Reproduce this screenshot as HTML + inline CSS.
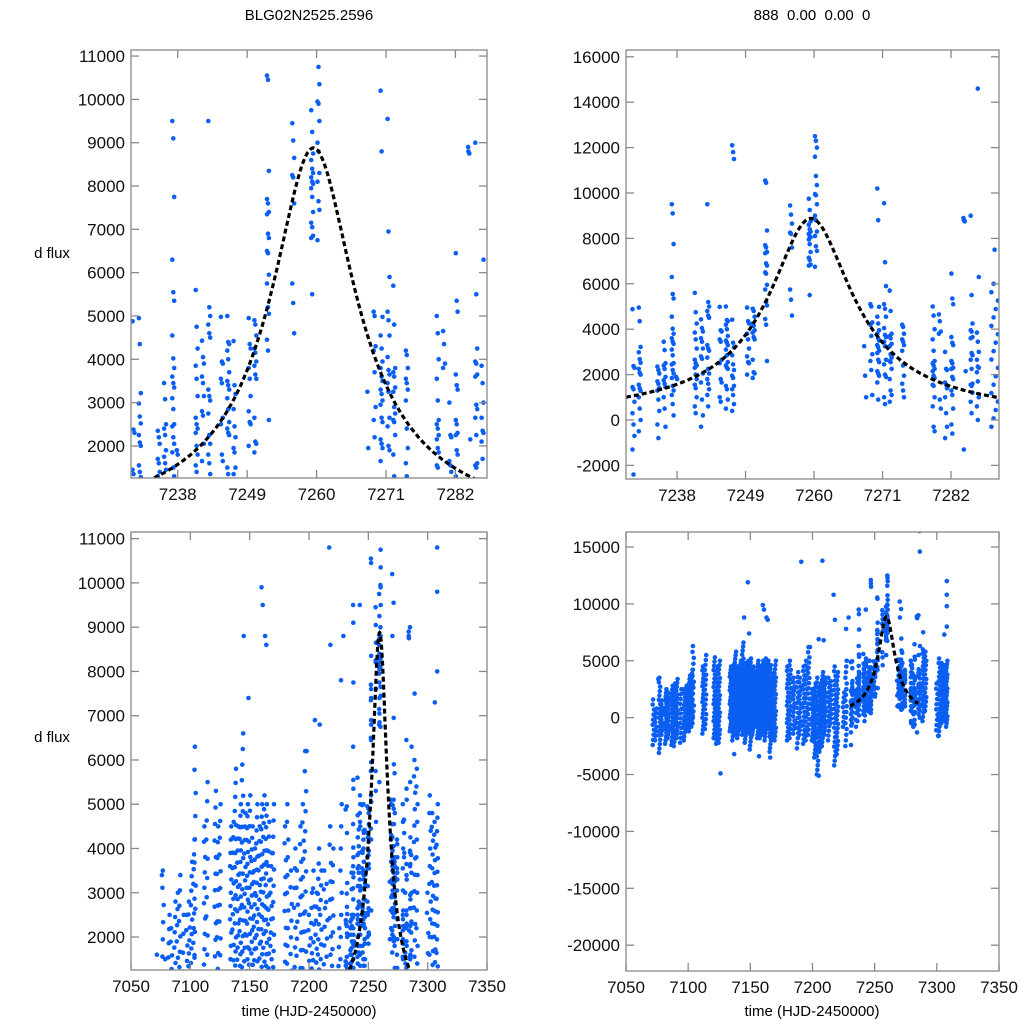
<!DOCTYPE html>
<html><head><meta charset="utf-8"><style>
html,body{margin:0;padding:0;background:#fff;width:1024px;height:1024px;overflow:hidden;}
svg{display:block;font-family:"Liberation Sans",sans-serif;}
</style></head><body>
<svg id="fig" width="1024" height="1024" viewBox="0 0 1024 1024">
<text x="309" y="20" font-size="15" text-anchor="middle">BLG02N2525.2596</text>
<text x="812" y="20" font-size="15" text-anchor="middle" xml:space="preserve">888  0.00  0.00  0</text>
<text x="52" y="258" font-size="15" text-anchor="middle">d flux</text>
<text x="52" y="742" font-size="15" text-anchor="middle">d flux</text>
<text x="309" y="1016" font-size="15" text-anchor="middle">time (HJD-2450000)</text>
<text x="812" y="1016" font-size="15" text-anchor="middle">time (HJD-2450000)</text>
</svg>
<script>
// Explicit observations near the event: [time, list of flux values]
const obsTimes = [7231,7232,7235,7236,7237.3,7238,7241,7242,7243,7245,7246,7247,7249.4,7250.3,7252.3,7256.3,7259.3,7260.3,7268.2,7269.2,7270.3,7271.4,7272.3,7274.3,7279.2,7280.2,7281.2,7282.2,7284.2,7285.3,7286.3];
const obsFlux = [
 [4880,2380,2300,1450,1350,800,300,-200,-700,-1300,-2400],
 [4950,4350,3220,2980,2680,2520,2250,2080,2000,1550,1400,1280,1000,500,0,-500],
 [2350,2200,2050,1700,1600,1400,1300,900,400,-200,-800],
 [3450,3080,2500,2400,2250,1900,1750,1600,1450,1000,500,-300],
 [9500,9100,7750,6300,5550,5350,4550,4020,3800,3600,3450,3350,3100,2850,2500,2450,2200,2050,1850,1500,1300,1100,700,200],
 [1900,1800],
 [5600,4750,4250,3850,3550,3150,2650,2500,2400,2300,2000,1800,1550,1400,1000,600,300],
 [4430,4050,3900,3600,3450,3150,2800,2700,2050,1650,900,200,-300],
 [9500,5200,5000,4800,4600,4500,3300,3150,3050,2750,2250,2050,1800,1600,1350,1100,600],
 [4980,3950,3900,3550,3450,2650,2500,1800,1650,1000,800],
 [5000,4400,4350,4200,4000,3700,3500,3400,3300,3100,2850,2550,2400,2300,2250,1500,1350,900,500],
 [12100,11800,11500,4420,3400,3200,2850,2450,2200,1950,1850,1500,1350,1100,700,400],
 [4950,4350,4250,3800,3550,3150,2800,2550,2500,2000],
 [4900,4800,4550,4250,4150,3950,3850,3650,3550,2650,2100,2050,1850],
 [10550,10450,8350,7700,7600,7400,7350,6900,6800,6500,6450,5950,5750,5200,5050,4450,4200,2600],
 [9450,9050,8650,8250,8200,7600,5750,5300,4600],
 [9750,9250,8750,8600,8400,8300,8200,8100,8050,7950,7750,7400,7150,7050,6850,6800,5500],
 [12500,12300,12000,11600,10750,10350,9950,9900,9500,9000,8800,8300,8100,7650,7450,6750],
 [3250,1950,1000],
 [5100,5000,4300,4200,3700,2900,2600,2200,1100],
 [10200,8800,4980,4550,4250,3950,3800,3600,3500,3300,3200,3050,2950,2650,2550,2150,2050,1950,1650,900],
 [9550,6950,5900,5100,4900,4550,4050,3750,3650,3450,3250,2650,2450,2000,1900,1000,700],
 [5700,4800,3800,3700,3600,3350,3250,2900,2750,2600,2550,2250,1800,1300,1100,800],
 [4200,4100,3800,3550,3450,3300,3050,2400,1950,1600,1300,1000],
 [5000,4600,4000,3550,3050,2600,2500,2400,2250,2150,1950,1850,1550,1500,1000,600,-300,-500],
 [4650,4350,3900,3800,900,500],
 [3000,2250,2200,1650,1550,1400,1000,300,-300,-800],
 [6450,5350,5100,3650,3400,3300,2600,2500,2300,2250,1900,1800,1300,1100,500,-200,-600],
 [8800,8750,2150,-1300],
 [9000,5500,4250,3950,3900,3650,3600,2950,2850,2650,2250,1600,1550,1500,1200,800,300],
 [16400,14600,6300,3850,3450,3000,2650,2350,2300,2100,1700,1000,600,0]
];
// Season nights outside the event window: time, lowest flux, highest flux, number of points
const nightTimes = [7072,7074,7077,7079,7082,7084,7087,7089,7091,7094,7097,7099,7101,7103,7104,7112,7114,7121,7123,7125,7134,7136,7138,7140,7142,7144,7146,7148,7150,7152,7154,7156,7158,7160,7162,7164,7166,7168,7170,7180,7182,7185,7188,7190,7193,7195,7197,7200,7202,7204,7206,7208,7210,7213,7215,7218,7220,7225,7227,7289,7291,7300,7302,7304,7306,7308];
const nightLow  = [-2400,-2000,-3100,-1500,-2300,-1800,-2400,-2500,-1800,-2200,-2000,-1000,-1200,-800,-500,-1400,-1000,-1800,-2300,-2200,-1200,-2000,-1500,-1800,-1000,-1500,-2200,-1200,-2800,-1500,-800,-1800,-1800,-1500,-2000,-1000,-3000,-1800,-2000,-2000,-1800,-1400,-2700,-1500,-2300,-2000,-1500,-2000,-3500,-5000,-3000,-2500,-1500,-2000,-500,-4200,-3200,-800,-2500,-300,600,-1100,-1600,-500,-300,-800];
const nightHigh = [1600,800,3500,1500,2500,2200,2800,3000,3400,2500,2500,2800,3700,4200,6300,4500,5500,5300,4500,5000,4500,4600,5800,4500,5000,6600,4800,5000,5200,4500,4000,5000,4500,5000,5200,5000,4600,3900,5000,4500,5000,3500,4000,3500,4500,5000,6200,2500,3000,3500,3000,4000,3500,3500,3200,4500,4000,2200,5000,6000,5800,3000,5200,4800,4600,5000];
const nightCount = [10,8,18,10,16,14,16,16,16,12,14,14,16,16,14,18,16,20,20,20,20,20,24,24,24,24,24,24,24,24,20,24,20,24,24,24,24,20,20,18,18,14,16,14,18,18,18,14,20,22,20,20,16,14,10,22,20,8,16,18,14,10,18,18,18,20];
const outlierTimes = [7076,7126,7137,7145,7148,7149,7157,7160,7161,7163,7164,7166,7191,7198,7205,7205,7208,7209,7217,7218,7227,7229,7301,7308,7308,7308,7308,7306,7289,7284];
const outlierFlux  = [3400,-4900,-3200,8800,11900,7400,-3400,9900,9500,8800,8600,-3500,13700,6200,6900,-5100,13800,6800,10800,8600,7800,8800,-1600,12000,10800,9800,8000,7300,7500,8900];
// Microlensing fit model parameters
const fitPeak = 8880, fitT0 = 7259.5, fitWidth = 7.15, fitPower = 0.75;

const NS='http://www.w3.org/2000/svg';
const svg=document.getElementById('fig');
function mk(tag,attrs,parent){const e=document.createElementNS(NS,tag);for(const k in attrs)e.setAttribute(k,attrs[k]);(parent||svg).appendChild(e);return e;}

const pts=[];
obsTimes.forEach((t,i)=>obsFlux[i].forEach((v,j)=>pts.push([t+((j%3)-1)*0.15,v])));
nightTimes.forEach((t,i)=>{const n=nightCount[i];for(let k=0;k<n;k++){pts.push([t+((k%4)-1.5)*0.35,nightLow[i]+(nightHigh[i]-nightLow[i])*k/(n-1)]);}});
outlierTimes.forEach((t,i)=>pts.push([t,outlierFlux[i]]));
function model(t){const d=(t-fitT0)/fitWidth;return fitPeak/Math.pow(1+d*d,fitPower);}

const panels=[
 {id:'top-left',x0:131,x1:487,y0:50,y1:478,tmin:7230.6,tmax:7287,fmin:1260,fmax:11140,xt:[7238,7249,7260,7271,7282],yt:[2000,3000,4000,5000,6000,7000,8000,9000,10000,11000],fit:[7230.6,7287]},
 {id:'top-right',x0:626,x1:999,y0:50,y1:479,tmin:7229.8,tmax:7289.7,fmin:-2600,fmax:16300,xt:[7238,7249,7260,7271,7282],yt:[-2000,0,2000,4000,6000,8000,10000,12000,14000,16000],fit:[7229.8,7289.7]},
 {id:'bottom-left',x0:131,x1:487,y0:532,y1:970,tmin:7050,tmax:7350,fmin:1255,fmax:11150,xt:[7050,7100,7150,7200,7250,7300,7350],yt:[2000,3000,4000,5000,6000,7000,8000,9000,10000,11000],fit:[7230,7285]},
 {id:'bottom-right',x0:626,x1:999,y0:532,y1:971,tmin:7050,tmax:7350,fmin:-22270,fmax:16320,xt:[7050,7100,7150,7200,7250,7300,7350],yt:[-20000,-15000,-10000,-5000,0,5000,10000,15000],fit:[7230,7285]}
];
panels.forEach((p,pi)=>{
 const sx=t=>p.x0+(t-p.tmin)/(p.tmax-p.tmin)*(p.x1-p.x0);
 const sy=v=>p.y1-(v-p.fmin)/(p.fmax-p.fmin)*(p.y1-p.y0);
 const g=mk('g',{});
 
 
 const cp=mk('clipPath',{id:'cp'+pi},g);
 mk('rect',{x:p.x0,y:p.y0,width:p.x1-p.x0,height:p.y1-p.y0},cp);
 const pg=mk('g',{'clip-path':'url(#cp'+pi+')',fill:'#0a5ef2'},g);
 
 
 const fpad=(p.fmax-p.fmin)*0.01, tpad=(p.tmax-p.tmin)*0.01;
 pts.forEach(q=>{
  if(q[0]<p.tmin-tpad||q[0]>p.tmax+tpad||q[1]<p.fmin-fpad||q[1]>p.fmax+fpad)return;
  const c=mk('circle',{cx:sx(q[0]).toFixed(1),cy:sy(q[1]).toFixed(1),r:2.3},pg);
  
  });
 let d='';for(let t=p.fit[0];t<=p.fit[1]+1e-6;t+=0.25){const v=Math.max(model(t),p.fmin-fpad);d+=(d?'L':'M')+sx(t).toFixed(1)+','+sy(v).toFixed(1);}
 const fl=mk('path',{d:d,fill:'none',stroke:'#000','stroke-width':3.2,'stroke-dasharray':'5,3','clip-path':'url(#cp'+pi+')'},g);
 
 
 const fr=mk('rect',{x:p.x0,y:p.y0,width:p.x1-p.x0,height:p.y1-p.y0,fill:'none',stroke:'#888','stroke-width':1.3},g);
 
 
 p.xt.forEach(v=>{const x=sx(v);
  mk('line',{x1:x,x2:x,y1:p.y1,y2:p.y1-8,stroke:'#888','stroke-width':1.3},g);
  mk('line',{x1:x,x2:x,y1:p.y0,y2:p.y0+8,stroke:'#888','stroke-width':1.3},g);
  const tx=mk('text',{x:x,y:p.y1+22,'font-size':17,'text-anchor':'middle',fill:'#111'},g);tx.textContent=v;
  
  });
 p.yt.forEach(v=>{const y=sy(v);
  mk('line',{x1:p.x0,x2:p.x0+8,y1:y,y2:y,stroke:'#888','stroke-width':1.3},g);
  mk('line',{x1:p.x1,x2:p.x1-8,y1:y,y2:y,stroke:'#888','stroke-width':1.3},g);
  const ty=mk('text',{x:p.x0-6,y:y+6,'font-size':17,'text-anchor':'end',fill:'#111'},g);ty.textContent=v;
  
  });
});
</script>
</body></html>
